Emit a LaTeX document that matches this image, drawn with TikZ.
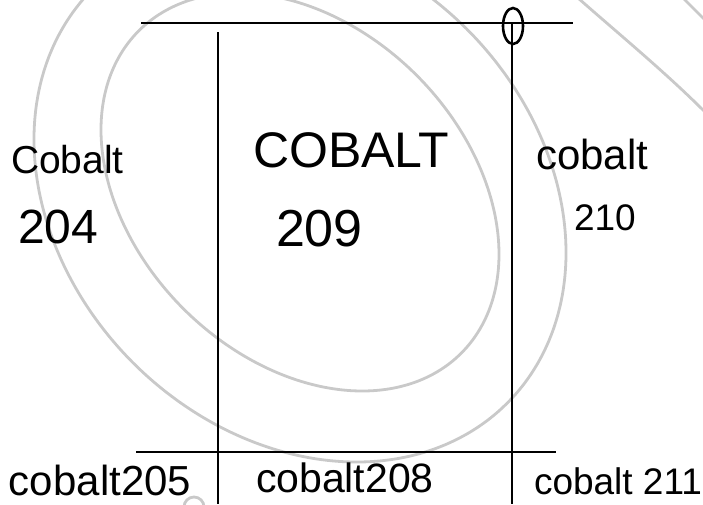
\documentclass[tikz,border=0pt]{standalone}
\usepackage{fontspec}
\setmainfont{Liberation Sans}
\begin{document}
\begin{tikzpicture}[x=1pt,y=-1pt,
  ink/.style={line width=2.2pt, black},
  loopink/.style={line width=2.6pt, black},
  wm/.style={line width=2.8pt, black!21},
  lbl/.style={anchor=base west, inner sep=0pt, outer sep=0pt, text=black}]
\useasboundingbox (0,0) rectangle (703,504);
% watermark rings (major axis runs from upper left to lower right)
\begin{scope}
  \clip (0,0) rectangle (703,504);
  \draw[wm] plot[domain=0:360, samples=120, smooth cycle]
    ({300 + 0.7071*(228*cos(\x) - 165*sin(\x))}, {192 + 0.7071*(228*cos(\x) + 165*sin(\x))});
  \draw[wm] plot[domain=0:360, samples=120, smooth cycle]
    ({300 + 0.7071*(293*cos(\x) - 236*sin(\x))}, {196 + 0.7071*(293*cos(\x) + 236*sin(\x))});
  \draw[wm] (578,-2) .. controls (620,35) and (665,72) .. (705,112);
  \draw[wm] (683,-2) -- (705,20);
  \draw[wm] (184,507) arc (180:360:10);
\end{scope}
% line end points
\coordinate (topL) at (141,23);
\coordinate (topR) at (573,23);
\coordinate (lvT) at (218,32);
\coordinate (lvB) at (218,504);
\coordinate (rvT) at (512,23);
\coordinate (rvB) at (512,504);
\coordinate (botL) at (136,452);
\coordinate (botR) at (556,452);
% lines
\draw[ink] (topL) -- (topR);
\draw[ink] (lvT) -- (lvB);
\draw[ink] (rvT) -- (rvB);
\draw[ink] (botL) -- (botR);
\draw[loopink] (513,26) ellipse [x radius=10, y radius=18];
% labels
\node[lbl, font=\fontsize{39}{39}\selectfont] (cobL) at (11,173) {Cobalt};
\node[lbl, font=\fontsize{48}{48}\selectfont] (n204) at (18,243) {204};
\node[lbl, font=\fontsize{50}{50}\selectfont] (cobC) at (253,167) {COBALT};
\node[lbl, font=\fontsize{52}{52}\selectfont] (n209) at (276,246) {209};
\node[lbl, font=\fontsize{42}{42}\selectfont] (cobR) at (536,169) {cobalt};
\node[lbl, font=\fontsize{37}{37}\selectfont] (n210) at (574,230) {210};
\node[lbl, font=\fontsize{42}{42}\selectfont] (c205) at (9,495) {cobalt205};
\node[lbl, font=\fontsize{41}{41}\selectfont] (c208) at (256,492) {cobalt208};
\node[lbl, font=\fontsize{37}{37}\selectfont] (c211) at (534,494) {cobalt 211};
\end{tikzpicture}
\end{document}
